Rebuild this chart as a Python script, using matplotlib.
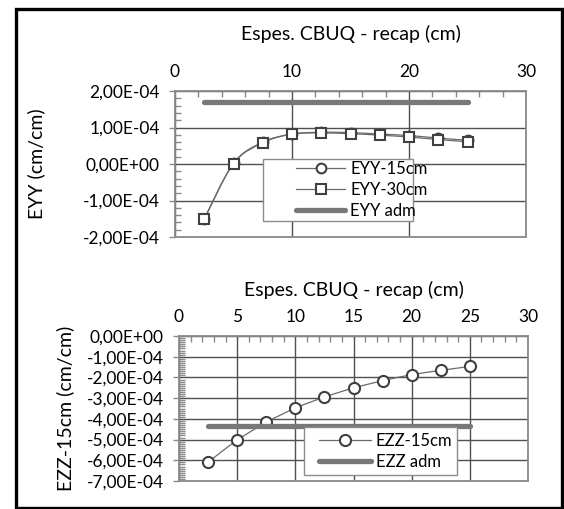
import numpy as np
import matplotlib
matplotlib.use("Agg")
import matplotlib.pyplot as plt
from matplotlib.path import Path
from matplotlib.patches import PathPatch, Rectangle
from matplotlib.lines import Line2D
from matplotlib.ticker import MultipleLocator, FuncFormatter

plt.rcParams['font.family'] = ['Lato', 'DejaVu Sans']

# espessura do recapeamento (cm)
espessura = [2.5, 5, 7.5, 10, 12.5, 15, 17.5, 20, 22.5, 25]

# deformacoes horizontais EYY
eyy_15 = [-1.50e-4, 0.02e-4, 0.60e-4, 0.82e-4, 0.87e-4, 0.86e-4, 0.82e-4, 0.78e-4, 0.71e-4, 0.65e-4]
eyy_30 = [-1.52e-4, 0.01e-4, 0.58e-4, 0.82e-4, 0.85e-4, 0.83e-4, 0.79e-4, 0.74e-4, 0.67e-4, 0.61e-4]
eyy_adm = 1.70e-4

# deformacoes verticais EZZ
ezz_15 = [-6.09e-4, -5.03e-4, -4.17e-4, -3.48e-4, -2.95e-4, -2.51e-4, -2.16e-4, -1.87e-4, -1.66e-4, -1.47e-4]
ezz_adm = -4.33e-4

COR_GRADE = '#505050'
COR_EIXO = '#8a8a8a'
COR_LINHA = '#6a6a6a'
COR_MARCA = '#404040'
COR_ADM = '#787878'


def curva_suave(x, y):
    """Catmull-Rom convertido em Bezier, parecido com a linha suavizada do Excel."""
    p = np.column_stack([x, y]).astype(float)
    p_ext = np.vstack([p[0], p, p[-1]])
    verts = [p[0]]
    codes = [Path.MOVETO]
    for i in range(1, len(p_ext) - 2):
        p0, p1, p2, p3 = p_ext[i - 1], p_ext[i], p_ext[i + 1], p_ext[i + 2]
        c1 = p1 + (p2 - p0) / 6.0
        c2 = p2 - (p3 - p1) / 6.0
        verts += [c1, c2, p2]
        codes += [Path.CURVE4] * 3
    return Path(verts, codes)


def fmt_excel(v, pos):
    return ('%.2E' % v).replace('.', ',').replace('-0,00', '0,00')


def estilo_eixo(ax, xmaj, xmin, ymaj, ymin):
    ax.xaxis.set_label_position('top')
    ax.xaxis.tick_top()
    ax.xaxis.set_major_locator(MultipleLocator(xmaj))
    ax.xaxis.set_minor_locator(MultipleLocator(xmin))
    ax.yaxis.set_major_locator(MultipleLocator(ymaj))
    ax.yaxis.set_minor_locator(MultipleLocator(ymin))
    ax.yaxis.set_major_formatter(FuncFormatter(fmt_excel))
    ax.tick_params(axis='both', which='major', labelsize=12.5, colors=COR_EIXO,
                   labelcolor='black', length=4, width=1, direction='out', pad=7)
    ax.tick_params(axis='both', which='minor', colors=COR_EIXO, length=4,
                   width=1, direction='in')
    ax.tick_params(axis='x', which='major', direction='in', length=0, pad=8)
    ax.grid(True, which='major', color=COR_GRADE, lw=1)
    for s in ax.spines.values():
        s.set_color(COR_EIXO)
        s.set_linewidth(1.3)
    ax.set_axisbelow(True)


def legenda(ax, handles, labels, frame, anchor, hlen):
    # caixa desenhada a parte para controlar a margem interna
    x0, y0, x1, y1 = frame
    ax.add_patch(Rectangle((x0, y0), x1 - x0, y1 - y0, transform=ax.transAxes,
                           facecolor='white', edgecolor=COR_EIXO, lw=1,
                           zorder=19, clip_on=False))
    leg = ax.legend(handles, labels, loc='center left', bbox_to_anchor=anchor,
                    borderaxespad=0, borderpad=0, frameon=False, fontsize=12,
                    handlelength=hlen, handletextpad=0.3, labelspacing=0.3)
    leg.set_zorder(20)
    return leg


fig = plt.figure(figsize=(5.64, 5.09), dpi=100)

# moldura preta
fig.patches.append(Rectangle((15.5 / 564, 1.5 / 509), 546 / 564, 499 / 509,
                             transform=fig.transFigure, fill=False,
                             edgecolor='black', lw=2.4, zorder=10))

# ---------------- EYY ----------------
ax1 = fig.add_axes([175 / 564, 1 - 237 / 509, 351 / 564, 146 / 509])
estilo_eixo(ax1, 10, 2, 1e-4, 2e-5)
ax1.set_xlim(0, 30)
ax1.set_ylim(-2e-4, 2e-4)

ax1.add_patch(PathPatch(curva_suave(espessura, eyy_15), fill=False, ec=COR_LINHA, lw=0.9, zorder=3))
ax1.plot(espessura, eyy_15, ls='none', marker='o', ms=7, mfc='white', mec=COR_MARCA, mew=1.5, zorder=4)
ax1.add_patch(PathPatch(curva_suave(espessura, eyy_30), fill=False, ec=COR_LINHA, lw=0.9, zorder=5))
ax1.plot(espessura, eyy_30, ls='none', marker='s', ms=7, mfc='white', mec=COR_MARCA, mew=1.5, zorder=6)
ax1.plot([espessura[0], espessura[-1]], [eyy_adm, eyy_adm], color=COR_ADM, lw=3.8,
         solid_capstyle='round', zorder=7)

ax1.set_xlabel('Espes. CBUQ - recap (cm)', fontsize=14, labelpad=17)
ax1.set_ylabel('EYY (cm/cm)', fontsize=14, labelpad=27)

h1 = [Line2D([], [], color=COR_LINHA, lw=0.9, marker='o', ms=7, mfc='white', mec=COR_MARCA, mew=1.5),
      Line2D([], [], color=COR_LINHA, lw=0.9, marker='s', ms=7, mfc='white', mec=COR_MARCA, mew=1.5),
      Line2D([], [], color=COR_ADM, lw=3.8, solid_capstyle='round')]
legenda(ax1, h1, ['EYY-15cm', 'EYY-30cm', 'EYY adm'],
        (0.251, 0.110, 0.678, 0.534), (0.345, 0.322), 2.95)

# ---------------- EZZ ----------------
ax2 = fig.add_axes([179 / 564, 1 - 481 / 509, 349 / 564, 145 / 509])
estilo_eixo(ax2, 5, 1, 1e-4, 1e-5)
ax2.set_xlim(0, 30)
ax2.set_ylim(-7e-4, 0)

ax2.add_patch(PathPatch(curva_suave(espessura, ezz_15), fill=False, ec=COR_LINHA, lw=0.9, zorder=3))
ax2.plot(espessura, ezz_15, ls='none', marker='o', ms=8, mfc='white', mec=COR_MARCA, mew=1.5, zorder=4)
ax2.plot([espessura[0], espessura[-1]], [ezz_adm, ezz_adm], color=COR_ADM, lw=3.8,
         solid_capstyle='round', zorder=7)

ax2.set_xlabel('Espes. CBUQ - recap (cm)', fontsize=14, labelpad=9)
ax2.set_ylabel('EZZ-15cm (cm/cm)', fontsize=14, labelpad=9)

h2 = [Line2D([], [], color=COR_LINHA, lw=0.9, marker='o', ms=8, mfc='white', mec=COR_MARCA, mew=1.5),
      Line2D([], [], color=COR_ADM, lw=3.8, solid_capstyle='round')]
legenda(ax2, h2, ['EZZ-15cm', 'EZZ adm'],
        (0.358, 0.041, 0.797, 0.372), (0.401, 0.203), 3.1)

fig.savefig('out.png', dpi=100)
